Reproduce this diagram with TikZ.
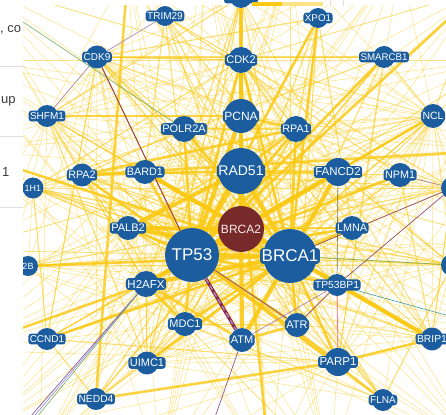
\documentclass[tikz,border=0pt]{standalone}
\usepackage{fontspec}
\setmainfont{Liberation Sans}
\usepackage{tikz}
\definecolor{GenBlue}{RGB}{27,93,158}
\definecolor{GenRed}{RGB}{118,42,42}
\definecolor{EdgeGold}{RGB}{250,201,20}
\definecolor{EdgePurple}{RGB}{128,60,130}
\definecolor{EdgeMaroon}{RGB}{135,40,75}
\definecolor{EdgeGreen}{RGB}{110,170,90}
\definecolor{EdgeTeal}{RGB}{60,150,160}
\definecolor{PanelGrey}{RGB}{222,222,222}
\definecolor{PanelText}{RGB}{60,60,60}

\pgfdeclarelayer{edges}
\pgfdeclarelayer{front}
\pgfsetlayers{edges,main,front}

\tikzset{
  gene/.style={circle, fill=GenBlue, inner sep=0pt, minimum size=#1pt},
  genelab/.style={fill=GenBlue, text=white, rounded corners=3pt, inner xsep=1.5pt, inner ysep=1.9pt},
  thinedge/.style={EdgeGold, line width=0.5pt, opacity=0.5},
  midedge/.style={EdgeGold, line width=1.1pt, opacity=0.6},
  thickedge/.style={EdgeGold, line width=2.6pt, opacity=0.8},
  heavyedge/.style={EdgeGold, line width=4.2pt, opacity=0.9},
  oddedge/.style={line width=0.7pt, opacity=0.85},
}

\begin{document}
\begin{tikzpicture}[x=1pt,y=-1pt]
  \useasboundingbox (0,0) rectangle (446,414);

  % genes
  \foreach \n/\x/\y/\d/\f in {TRIM29/165/16/20/10, XPO1/318/18/20/9.8, CDK9/97/57/23/10,
      CDK2/241/60/26/11, SMARCB1/384/57/22/9.7, SHFM1/47/116/22/10, POLR2A/184/129/26/11,
      PCNA/241/116/34/12, RPA1/296/129/26/10.8, NCL/433/116/24/10.5, RPA2/82/175/23/10.8,
      BARD1/145/172/24/10.8, RAD51/241/171/46/14, FANCD2/338/172/28/11.5, NPM1/400/175/24/10.8,
      PALB2/128/228/24/11, LMNA/352/228/24/10.8, TP53/192/255/54/17, BRCA1/290/256/54/17,
      H2AFX/146/284/26/11.5, TP53BP1/337/285/22/10.3, MDC1/185/324/24/11, ATM/242/340/24/11,
      ATR/297/325/24/11, CCND1/47/339/22/10, UIMC1/147/363/23/11, BRIP1/432/339/23/10.3,
      PARP1/338/362/28/11.5, NEDD4/96/399/22/10.3, FLNA/383/400/22/10}
    \node[gene=\d, label={[genelab, font=\fontsize{\f}{\f}\selectfont]center:\n}] (\n) at (\x,\y) {};
  \node[gene=46, fill=GenRed, label={[genelab, fill=GenRed, text=red!8, font=\fontsize{12}{12}\selectfont]center:BRCA2}] (BRCA2) at (241,229) {};

  % genes cut by the view
  \node[gene=22, label={[genelab, minimum width=34pt, minimum height=13pt]center:{}}] (TOPX) at (241,-3) {};
  \node[gene=21, label={[genelab, font=\fontsize{9}{9}\selectfont]center:1H1}] (L1H1) at (33,188) {};
  \node[gene=20, label={[genelab, font=\fontsize{9}{9}\selectfont]center:2B}] (L2B) at (28,266) {};
  \node[gene=22] (R1) at (452,188) {};
  \node[gene=22] (R2) at (452,265) {};

  % free ends outside the view
  \coordinate (oNW) at (-30,-20);  \coordinate (oN1) at (128,-30);
  \coordinate (oN2) at (205,-40);  \coordinate (oN3) at (290,-40);
  \coordinate (oN4) at (400,-40);  \coordinate (oNE) at (480,-10);
  \coordinate (oE1) at (500,60);   \coordinate (oE2) at (500,150);
  \coordinate (oE3) at (500,240);  \coordinate (oE4) at (500,330);
  \coordinate (oSE) at (480,450);  \coordinate (oS1) at (270,470);
  \coordinate (oS2) at (330,470);  \coordinate (oS3) at (160,470);
  \coordinate (oS4) at (40,450);   \coordinate (oSW) at (-30,440);
  \coordinate (oW1) at (-40,350);  \coordinate (oW2) at (-40,250);
  \coordinate (oW3) at (-40,150);  \coordinate (oW4) at (-40,60);
  \coordinate (oGL) at (-10,0);    \coordinate (oATM) at (200,460);
  \coordinate (oHa) at (10,440);   \coordinate (oHb) at (14,440);
  \coordinate (oHc) at (18,440);

  \begin{pgfonlayer}{edges}
    \fill[white] (0,0) rectangle (446,414);
    \clip (23,6) rectangle (446,414);
    % hairball
    \foreach \a [count=\i] in {TRIM29,XPO1,CDK9,SMARCB1,SHFM1,NCL,RPA2,NPM1,PALB2,LMNA,CCND1,UIMC1,NEDD4,FLNA,BRIP1,MDC1,ATR,TP53BP1,H2AFX,PARP1,FANCD2,BARD1,POLR2A,RPA1,CDK2,TOPX,L1H1,L2B,R1,R2}
      \foreach \b [count=\j] in {TRIM29,XPO1,CDK9,SMARCB1,SHFM1,NCL,RPA2,NPM1,PALB2,LMNA,CCND1,UIMC1,NEDD4,FLNA,BRIP1,MDC1,ATR,TP53BP1,H2AFX,PARP1,FANCD2,BARD1,POLR2A,RPA1,CDK2,TOPX,L1H1,L2B,R1,R2}
      {
        \pgfmathtruncatemacro\k{mod(\i*\i+3*\j,3)}
        \pgfmathtruncatemacro\m{mod(\i*\j+\j,7)}
        \ifnum\j>\i
          \ifnum\k=0 \draw[thinedge] (\a) -- (\b); \fi
          \ifnum\m=2 \draw[midedge] (\a) -- (\b); \fi
        \fi
      }
    \foreach \o in {oNW,oN1,oN2,oN3,oN4,oNE,oE1,oE2,oE3,oE4,oSE,oS1,oS2,oS3,oS4,oSW,oW1,oW2,oW3,oW4}
      \foreach \n in {BRCA1,TP53,RAD51,PCNA,H2AFX,CDK2,PARP1,NCL,SHFM1,MDC1}
        \draw[thinedge] (\o) -- (\n);
    % hubs
    \foreach \a in {TRIM29,XPO1,CDK9,SMARCB1,SHFM1,NCL,RPA2,NPM1,PALB2,LMNA,CCND1,UIMC1,NEDD4,FLNA,BRIP1,MDC1,ATR,TP53BP1,H2AFX,PARP1,FANCD2,BARD1,POLR2A,RPA1,CDK2,TOPX,L1H1,L2B,R1,R2}
      \foreach \h in {BRCA2,BRCA1,TP53}
        \draw[midedge] (\a) -- (\h);
    \foreach \a/\b in {SHFM1/PCNA, CDK2/TP53, CDK2/BRCA1, CDK2/RAD51, CDK2/TOPX, POLR2A/BRCA1,
        POLR2A/TP53, RPA1/RAD51, RPA1/TP53, RPA1/BRCA1, RPA1/PCNA, RPA2/TP53, RPA2/RAD51,
        RPA2/RPA1, BARD1/TP53, BARD1/BRCA2, FANCD2/TP53, FANCD2/RAD51, NPM1/TP53, LMNA/BRCA1,
        LMNA/TP53, H2AFX/TP53, H2AFX/ATM, MDC1/H2AFX, MDC1/TP53, MDC1/BRCA1, TP53BP1/TP53,
        TP53BP1/BRCA1, TP53BP1/BRIP1, ATR/BRCA1, ATR/TP53, PARP1/BRIP1, PARP1/TP53, PARP1/BRCA1,
        UIMC1/BRCA1, XPO1/TP53, NCL/TP53, FLNA/TP53, CCND1/BRCA1, RAD51/oS1, NEDD4/PARP1,
        H2AFX/oW1, oN1/NEDD4, XPO1/BRCA1, PALB2/TP53, ATM/ATR, SMARCB1/TP53, RPA2/oE2,
        oW3/BRCA1, L2B/BRCA1, oNE/TP53}
      \draw[thickedge] (\a) -- (\b);
    \foreach \a/\b in {BRCA2/RAD51, BRCA2/BRCA1, BRCA2/TP53, BRCA2/PALB2, BRCA2/PCNA, BRCA1/TP53,
        BRCA1/RAD51, TP53/RAD51, BRCA1/BARD1, BRCA2/FANCD2, BRCA1/BRIP1, CDK2/PCNA, PCNA/TOPX,
        BRCA1/H2AFX, BRCA2/H2AFX, BRCA2/ATM, BRCA1/ATM, TP53/PCNA, RAD51/PCNA, BRCA1/PALB2,
        RAD51/PALB2, BRCA1/FANCD2}
      \draw[heavyedge] (\a) -- (\b);
    % other interaction types
    \draw[oddedge, EdgePurple!70] (CDK9) -- (SHFM1);
    \draw[oddedge, EdgePurple!70] (CDK9) -- (TRIM29);
    \draw[oddedge, EdgeMaroon, line width=1pt] (CDK9) -- (TP53);
    \draw[EdgeMaroon, line width=3.4pt] (TP53) -- (ATM);
    \draw[EdgePurple!60, line width=1.4pt, dash pattern=on 5pt off 3pt] (TP53) -- (ATM);
    \draw[oddedge, EdgePurple] (ATM) -- (oATM);
    \draw[oddedge, EdgePurple] (TP53) -- (ATR);
    \draw[oddedge, EdgePurple!70] (ATM) -- (TP53BP1);
    \draw[oddedge, magenta!60] (TP53BP1) -- (PARP1);
    \draw[oddedge, EdgePurple] (TP53BP1) -- (ATR);
    \draw[oddedge, EdgePurple] (R1) -- (TP53BP1);
    \draw[oddedge, EdgePurple] (R1) -- (BRCA1);
    \draw[oddedge, EdgePurple!70] (NPM1) -- (R1);
    \draw[oddedge, black!60] (FANCD2) -- (TP53BP1);
    \draw[oddedge, EdgeGreen] (BRCA1) -- (R2);
    \draw[oddedge, EdgeGreen] (oGL) -- (POLR2A);
    \draw[oddedge, EdgeTeal] (TP53BP1) -- (oE4);
    \draw[oddedge, EdgePurple] (H2AFX) -- (oHa);
    \draw[oddedge, blue!50] (H2AFX) -- (oHb);
    \draw[oddedge, EdgeGreen] (H2AFX) -- (oHc);
  \end{pgfonlayer}

  % strip at the top
  \fill[EdgeGold] (252,2.5) rectangle (282,6);
  \fill[EdgeGold!50] (282,2.5) rectangle (323,6);
  \draw[PanelGrey] (330,0) -- (330,6) (343,0) -- (343,6);

  % side panel
  \begin{pgfonlayer}{front}
    \fill[white] (0,0) rectangle (23,414);
    \draw[PanelGrey] (0,66) -- (23,66) (0,136) -- (23,136) (0,207) -- (23,207);
    \node[anchor=west, inner sep=0pt, text=PanelText, font=\fontsize{13}{13}\selectfont] (pco) at (0,30) {, co};
    \node[anchor=west, inner sep=0pt, text=PanelText, font=\fontsize{13}{13}\selectfont] (pup) at (1,101) {up};
    \node[anchor=west, inner sep=0pt, text=PanelText, font=\fontsize{13}{13}\selectfont] (pone) at (2,172) {1};
  \end{pgfonlayer}
\end{tikzpicture}
\end{document}
